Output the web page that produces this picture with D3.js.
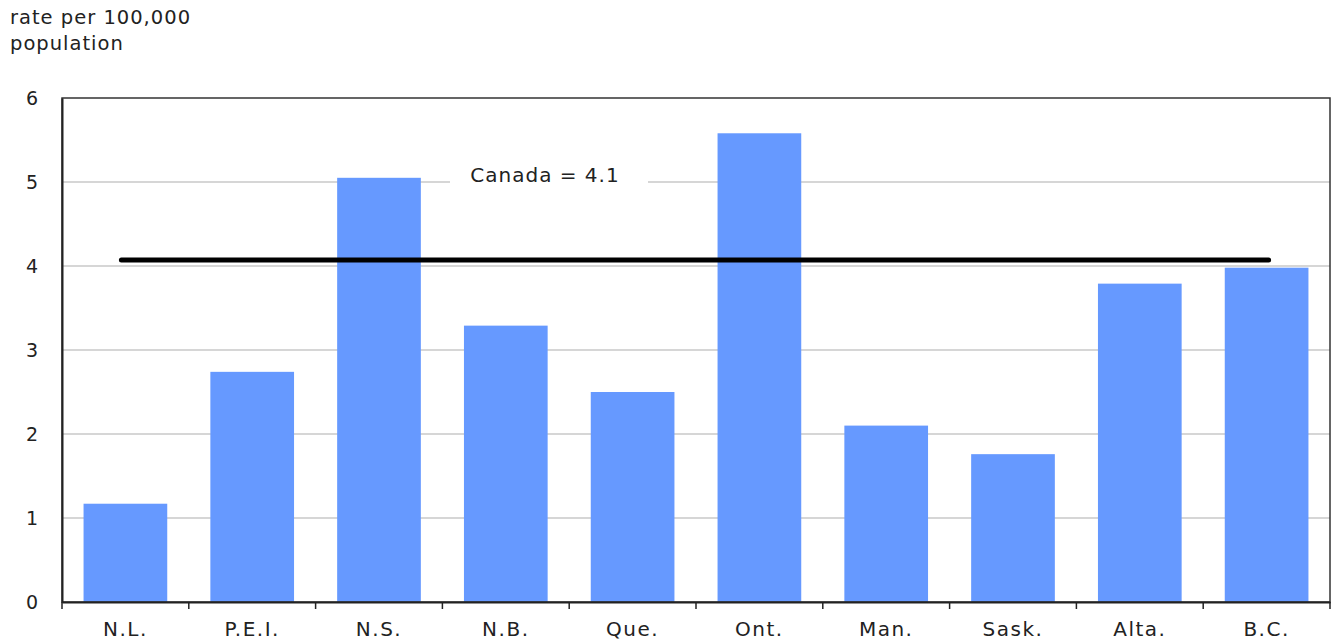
<!DOCTYPE html>
<html><head><meta charset="utf-8">
<script src="https://cdn.jsdelivr.net/npm/d3@7"></script>
<style>body{margin:0;background:#fff;}svg{display:block;font-family:"DejaVu Sans",Verdana,sans-serif;}</style>
</head><body>
<svg id="chart" width="1332" height="644"></svg>
<script>
const categories = ["N.L.","P.E.I.","N.S.","N.B.","Que.","Ont.","Man.","Sask.","Alta.","B.C."];
const values = [1.17,2.74,5.05,3.29,2.5,5.58,2.1,1.76,3.79,3.98];
const yTicks = [0,1,2,3,4,5,6];
const canadaValue = 4.07;
const canadaLabel = "Canada = 4.1";
const yTitle = ["rate per 100,000","population"];

const FONT = "DejaVu Sans, Verdana, sans-serif";
const svg = d3.select("#chart");
const m = {left:62, right:1330, top:98, bottom:602};
const x = d3.scaleBand().domain(categories).range([m.left,m.right]).paddingInner(0.34).paddingOuter(0.17);
const xb = d3.scaleBand().domain(categories).range([m.left,m.right]);
const y = d3.scaleLinear().domain([0,6]).range([m.bottom,m.top]);

// gridlines
svg.append("g").selectAll("line").data(yTicks.filter(d=>d>0&&d<6)).join("line")
  .attr("x1",m.left).attr("x2",m.right).attr("y1",d=>y(d)).attr("y2",d=>y(d))
  .attr("stroke","#c8c8c8").attr("stroke-width",1.5);

// canada label with white background
const lbl = svg.append("g");
lbl.append("rect").attr("x",450).attr("y",y(5)-18).attr("width",198).attr("height",28).attr("fill","#fff");
lbl.append("text").attr("x",545).attr("y",y(5)-6).attr("text-anchor","middle")
  .attr("dominant-baseline","middle").attr("font-size",20).attr("letter-spacing",1)
  .attr("fill","#222").text(canadaLabel);

// bars
svg.append("g").selectAll("rect").data(values).join("rect")
  .attr("x",(d,i)=>x(categories[i])).attr("width",x.bandwidth())
  .attr("y",d=>y(d)).attr("height",d=>y(0)-y(d)).attr("fill","#6699ff");

// canada line
svg.append("line")
  .attr("x1",xb(categories[0])+xb.bandwidth()/2-4).attr("x2",xb(categories[9])+xb.bandwidth()/2+2)
  .attr("y1",y(canadaValue)).attr("y2",y(canadaValue))
  .attr("stroke","#000").attr("stroke-width",5).attr("stroke-linecap","round");

// frame
svg.append("rect").attr("x",m.left).attr("y",m.top).attr("width",m.right-m.left).attr("height",m.bottom-m.top)
  .attr("fill","none").attr("stroke","#333").attr("stroke-width",1.5);

// y axis
const ya = svg.append("g").attr("transform",`translate(${m.left},0)`)
  .call(d3.axisLeft(y).tickValues(yTicks).tickSize(0).tickPadding(24).tickFormat(d3.format("d")));
ya.select(".domain").attr("stroke","#222").attr("stroke-width",2);
ya.selectAll("text").attr("font-size",19).attr("fill","#222").attr("font-family",FONT);

// x axis
const xa = svg.append("g").attr("transform",`translate(0,${m.bottom})`)
  .call(d3.axisBottom(xb).tickSize(0).tickPadding(20));
xa.select(".domain").attr("stroke","#222").attr("stroke-width",2);
xa.selectAll("text").attr("font-size",20).attr("letter-spacing",1.5).attr("fill","#222").attr("font-family",FONT);
// band boundary ticks
svg.append("g").selectAll("line").data(d3.range(categories.length+1)).join("line")
  .attr("x1",i=>m.left+i*xb.step()).attr("x2",i=>m.left+i*xb.step())
  .attr("y1",m.bottom).attr("y2",m.bottom+7).attr("stroke","#222").attr("stroke-width",1.5);

// title
svg.append("text").attr("x",10).attr("y",24).attr("font-size",19.5).attr("letter-spacing",1).attr("fill","#222")
  .selectAll("tspan").data(yTitle).join("tspan").attr("x",10).attr("dy",(d,i)=>i?26:0).text(d=>d);
</script>
</body></html>
